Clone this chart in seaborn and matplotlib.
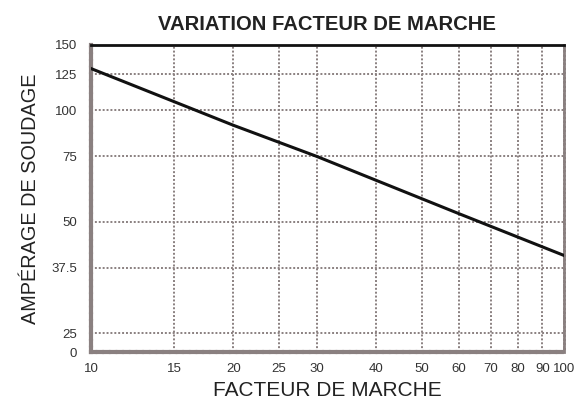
import seaborn as sns
import pandas as pd
import matplotlib.pyplot as plt
from matplotlib.ticker import FixedLocator, FixedFormatter, NullLocator

# values (log-log straight line)
facteur = [10, 20, 30, 60, 100]
amperage = [129.5, 91, 75, 52.5, 40.5]

x_ticks = [10, 15, 20, 25, 30, 40, 50, 60, 70, 80, 90, 100]
x_labels = ["10", "15", "20", "25", "30", "40", "50", "60", "70", "80", "90", "100"]
y_ticks = [22.2, 25, 37.5, 50, 75, 100, 125, 150]
y_labels = ["0", "25", "37.5", "50", "75", "100", "125", "150"]

sns.set_style("white")
plt.rcParams['font.family'] = ['Liberation Sans Narrow', 'Liberation Sans', 'DejaVu Sans']

df = pd.DataFrame({"facteur": facteur, "amperage": amperage})

fig = plt.figure(figsize=(5.79, 4.08), dpi=100)
ax = fig.add_axes([0.157, 0.137, 0.817, 0.753])

grid_col = "#8a8080"

sns.lineplot(data=df, x="facteur", y="amperage", ax=ax, color="#111111",
             linewidth=2.2, zorder=3)

ax.set_xscale("log")
ax.set_yscale("log")
ax.set_xlim(10, 100)
ax.set_ylim(22.2, 150)

ax.xaxis.set_major_locator(FixedLocator(x_ticks))
ax.xaxis.set_major_formatter(FixedFormatter(x_labels))
ax.xaxis.set_minor_locator(NullLocator())
ax.yaxis.set_major_locator(FixedLocator(y_ticks))
ax.yaxis.set_major_formatter(FixedFormatter(y_labels))
ax.yaxis.set_minor_locator(NullLocator())

ax.grid(True, which="major", color=grid_col, linestyle=(0, (1, 1)), linewidth=1.4)
ax.tick_params(axis="x", length=0, labelsize=9.5, colors="#333333", pad=8)
ax.tick_params(axis="y", length=0, labelsize=9.5, colors="#333333", pad=10)

# frame: solid black top, grey textured left/bottom, dotted grey right
ax.spines["top"].set_color("#111111")
ax.spines["top"].set_linewidth(2)
for side in ["left", "bottom"]:
    ax.spines[side].set_color("#8a8080")
    ax.spines[side].set_linewidth(3)
    ax.spines[side].set_linestyle((0, (1, 0.6)))
ax.spines["right"].set_color("#8a8080")
ax.spines["right"].set_linewidth(2)
ax.spines["right"].set_linestyle((0, (1, 0.6)))

ax.set_xlabel("FACTEUR DE MARCHE", fontsize=15, color="#222222", labelpad=4)
ax.set_ylabel("AMPÉRAGE DE SOUDAGE", fontsize=14.3, color="#222222", labelpad=8)
ax.set_title("VARIATION FACTEUR DE MARCHE", fontsize=14.6, fontweight="bold",
             color="#222222", pad=11)

fig.savefig("out.png", dpi=100)
